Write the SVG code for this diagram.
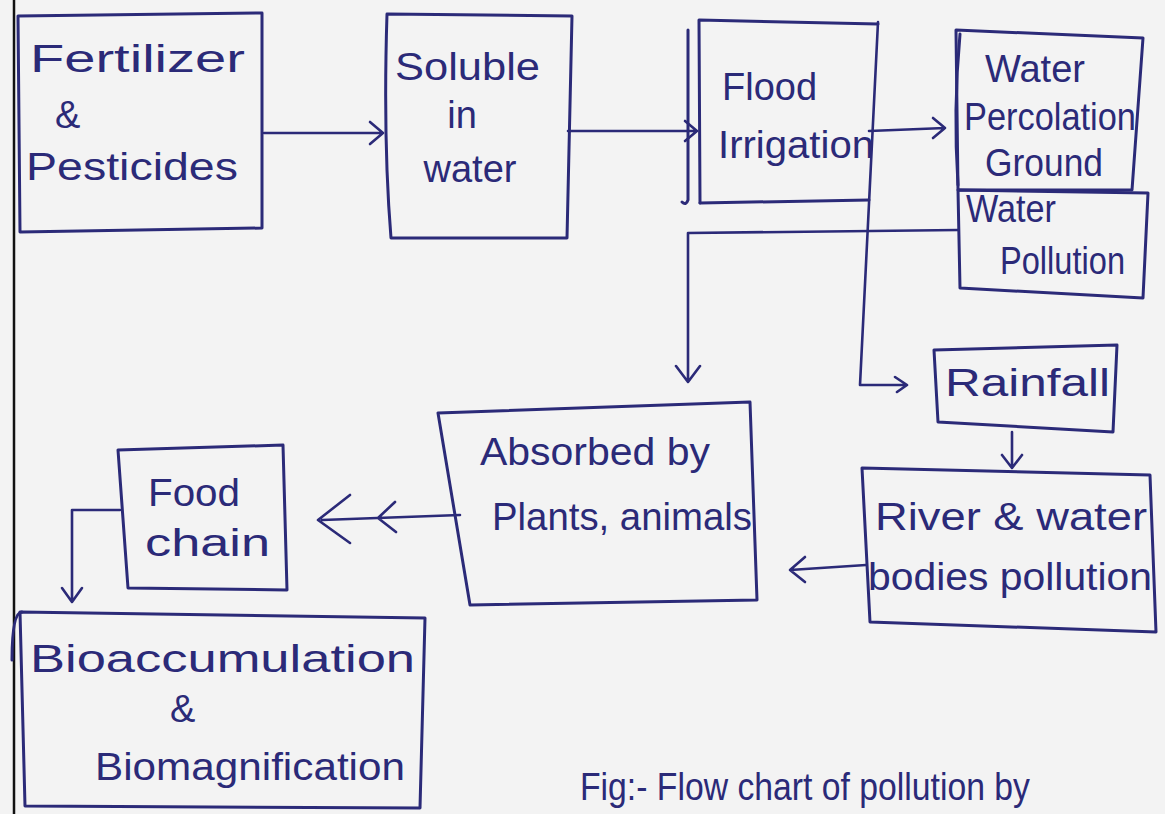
<svg xmlns="http://www.w3.org/2000/svg" width="1165" height="814" viewBox="0 0 1165 814">
<defs>
<style>
.bx{fill:none;stroke:#2b2a78;stroke-width:3;stroke-linejoin:round;stroke-linecap:round}
.ln{fill:none;stroke:#2b2a78;stroke-width:2.6;stroke-linecap:round;stroke-linejoin:round}
.t{font-family:"Liberation Sans",Arial,sans-serif;font-size:38px;fill:#2b2a78}
.c{text-anchor:middle}
</style>
</defs>
<rect x="0" y="0" width="1165" height="814" fill="#f3f3f3"/>
<line x1="14" y1="0" x2="14" y2="814" stroke="#111" stroke-width="2.5"/>

<g id="n1">
<path class="bx" d="M18,16 L262,13 L262,228 L20,232 Z"/>
<text class="t" x="30" y="72" textLength="215" lengthAdjust="spacingAndGlyphs">Fertilizer</text>
<text class="t" x="55" y="128">&amp;</text>
<text class="t" x="26" y="180" textLength="212" lengthAdjust="spacingAndGlyphs">Pesticides</text>
</g>

<g id="n2">
<path class="bx" d="M387,14 L572,16 L567,238 L391,238 Q383,140 387,14 Z"/>
<text class="t" x="395" y="80" textLength="145" lengthAdjust="spacingAndGlyphs">Soluble</text>
<text class="t c" x="462" y="128">in</text>
<text class="t c" x="470" y="182">water</text>
</g>

<g id="n3">
<path class="bx" d="M700,203 L699,20 L878,24"/>
<path class="bx" d="M700,203 L869,200"/>
<path class="bx" d="M688,30 L688,200 Q686,206 682,202"/>
<text class="t" x="722" y="100">Flood</text>
<text class="t" x="718" y="158" textLength="156" lengthAdjust="spacingAndGlyphs">Irrigation</text>
</g>

<g id="n4">
<path class="bx" d="M956,30 L1143,38 L1132,190 L958,190 Z"/>
<path class="bx" d="M960,34 Q953,110 958,185"/>
<text class="t" x="985" y="82" font-size="28" textLength="100" lengthAdjust="spacingAndGlyphs">Water</text>
<text class="t" x="964" y="130" font-size="28" textLength="172" lengthAdjust="spacingAndGlyphs">Percolation</text>
<text class="t" x="985" y="176" font-size="28" textLength="118" lengthAdjust="spacingAndGlyphs">Ground</text>
</g>

<g id="n5">
<path class="bx" d="M958,190 L1148,193 L1143,298 L960,288 Z"/>
<text class="t" x="966" y="222" font-size="28" textLength="90" lengthAdjust="spacingAndGlyphs">Water</text>
<text class="t" x="1000" y="274" font-size="28" textLength="125" lengthAdjust="spacingAndGlyphs">Pollution</text>
</g>

<g id="n6">
<path class="bx" d="M934,350 L1117,345 L1113,432 L938,422 Z"/>
<text class="t" x="945" y="396" textLength="165" lengthAdjust="spacingAndGlyphs">Rainfall</text>
</g>

<g id="n7">
<path class="bx" d="M862,468 L1150,475 L1156,632 L870,622 Z"/>
<text class="t" x="875" y="530" font-size="34" textLength="272" lengthAdjust="spacingAndGlyphs">River &amp; water</text>
<text class="t" x="868" y="590" font-size="34" textLength="284" lengthAdjust="spacingAndGlyphs">bodies pollution</text>
</g>

<g id="n8">
<path class="bx" d="M438,413 L750,402 L757,600 L470,605 Z"/>
<text class="t" x="480" y="465" font-size="34" textLength="230" lengthAdjust="spacingAndGlyphs">Absorbed by</text>
<text class="t" x="492" y="530" font-size="36" textLength="260" lengthAdjust="spacingAndGlyphs">Plants, animals</text>
</g>

<g id="n9">
<path class="bx" d="M118,450 L283,445 L287,590 L128,588 Z"/>
<text class="t" x="148" y="506" textLength="92" lengthAdjust="spacingAndGlyphs">Food</text>
<text class="t" x="145" y="556" textLength="125" lengthAdjust="spacingAndGlyphs">chain</text>
</g>

<g id="n10">
<path class="bx" d="M20,612 L425,618 L420,808 L25,806 Z"/>
<path class="bx" d="M12,660 Q12,612 22,612"/>
<text class="t" x="30" y="672" font-size="42" textLength="385" lengthAdjust="spacingAndGlyphs">Bioaccumulation</text>
<text class="t" x="170" y="722" font-size="40">&amp;</text>
<text class="t" x="95" y="780" font-size="42" textLength="310" lengthAdjust="spacingAndGlyphs">Biomagnification</text>
</g>

<g id="connectors">
<path class="ln" d="M264,133 L383,133 M370,122 L383,133 L370,144"/>
<path class="ln" d="M568,131 L697,131 M685,121 L697,131 L685,141"/>
<path class="ln" d="M869,131 L945,128 M933,118 L945,128 L933,138"/>
<path class="ln" d="M958,230 L688,233 L688,380 M676,366 L688,382 L700,366"/>
<path class="ln" d="M878,22 L860,385 L905,385 M895,377 L907,385 L897,392"/>
<path class="ln" d="M1012,432 L1012,468 M1002,455 L1012,468 L1022,455"/>
<path class="ln" d="M866,565 L790,570 M805,557 L790,570 L805,582"/>
<path class="ln" d="M460,515 L322,520 M395,502 L378,518 L396,532 M350,495 L318,520 L350,543"/>
<path class="ln" d="M120,510 L72,510 L72,600 M62,588 L72,602 L82,588"/>
</g>

<text class="t" x="580" y="800" font-size="36" textLength="450" lengthAdjust="spacingAndGlyphs">Fig:- Flow chart of pollution by</text>
</svg>
